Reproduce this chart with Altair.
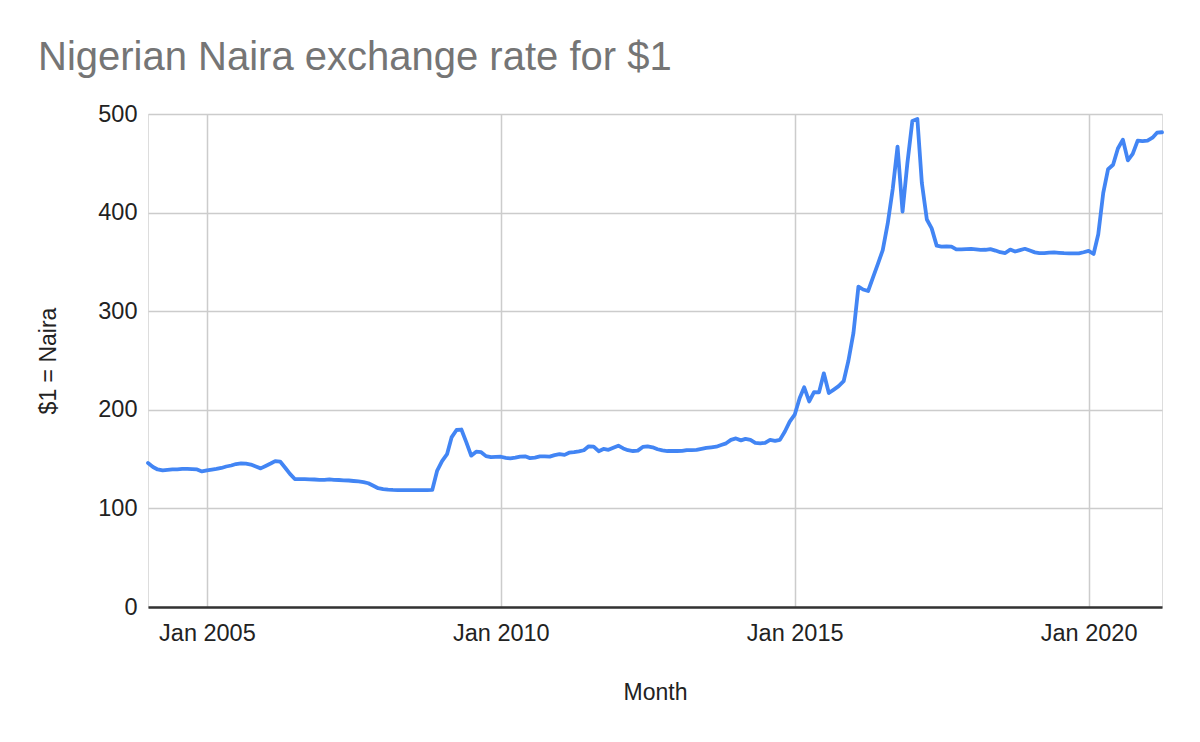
import altair as alt
import pandas as pd

# Monthly series: Jan 2004 .. Apr 2021
start_year = 2004
n_months = 208
months = [f"{start_year + i // 12}-{(i % 12) + 1:02d}-01" for i in range(n_months)]

naira = [
    146, 142, 139.5, 138.5, 139, 139.5, 139.5, 140, 140, 139.8, 139.5, 137.5,
    138.5, 139.3, 140, 141, 142.5, 143.5, 145, 145.7, 145.4, 144.5, 142.5, 140.6,
    143, 145.5, 148, 147.5, 141.5, 135, 129.8, 129.7, 129.6, 129.5, 129.3, 129,
    129, 129.5, 129, 128.8, 128.5, 128.3, 127.8, 127.3, 126.7, 125.5, 123, 120.5,
    119.5, 119, 118.7, 118.6, 118.5, 118.5, 118.6, 118.6, 118.6, 118.6, 118.7, 138,
    148, 155, 172, 179.5, 180, 167, 153.5, 157.5, 157, 153, 152, 152.3,
    152.4, 151.3, 150.7, 151.5, 152.5, 152.8, 151, 151.5, 152.7, 152.7, 152.5, 154,
    155, 154.3, 156.5, 157, 157.8, 159, 163, 162.7, 158, 160.3, 159.4, 161.5,
    163.6, 160.8, 159, 158.2, 158.6, 162.3, 163, 162, 160, 158.8, 158.2, 158.2,
    158.2, 158.3, 159.2, 159.2, 159.3, 160.3, 161.3, 162, 162.6, 164.3, 166, 169.5,
    171, 169, 170.5, 169.5, 166.5, 166, 166.5, 169.5, 168.5, 169.5, 178, 188,
    195, 212, 222.8, 208.5, 218, 217.7, 237, 217, 220.5, 224, 229, 250,
    278, 325, 322, 320.5, 334, 348, 362, 389, 424, 467, 401, 450,
    493, 495, 430, 393, 384, 366.5, 365.5, 365.8, 365.5, 362.7, 362.8, 363,
    363.3, 362.8, 362.2, 362.3, 363, 361.5, 359.8, 359, 362.5, 360.5, 362, 363.3,
    361.5, 359.7, 359, 358.8, 359.4, 359.6, 359.2, 358.8, 358.7, 358.7, 358.7, 359.8,
    361.2, 358, 378, 420, 444, 448.5, 465, 474, 453, 459.5, 473, 472.5,
    473, 476, 481, 481.5,
]

tick_years = [2005, 2010, 2015, 2020]
y_ticks = [0, 100, 200, 300, 400, 500]

df = pd.DataFrame({"Month": months, "Naira": naira})

FONT = "Liberation Sans"

chart = (
    alt.Chart(df)
    .mark_line(color="#4285F4", strokeWidth=3.8, strokeJoin="round", strokeCap="round")
    .encode(
        x=alt.X(
            "Month:T",
            scale=alt.Scale(type="utc", nice=False, padding=0),
            axis=alt.Axis(
                title="Month",
                values=[alt.DateTime(year=y, month=1, date=1, utc=True) for y in tick_years],
                format="%b %Y",
                grid=True,
                gridColor="#cccccc",
                gridWidth=1.5,
                ticks=False,
                tickSize=0,
                domain=True,
                domainColor="#333333",
                domainWidth=2.5,
                labelFont=FONT,
                labelFontSize=23.5,
                labelColor="#222222",
                labelBaseline="alphabetic",
                labelPadding=33,
                labelFlush=False,
                titleFont=FONT,
                titleFontSize=23,
                titleFontWeight="normal",
                titleColor="#222222",
                titleBaseline="alphabetic",
                titleY=92,
            ),
        ),
        y=alt.Y(
            "Naira:Q",
            scale=alt.Scale(domain=[0, 500], nice=False, zero=True),
            axis=alt.Axis(
                title="$1 = Naira",
                values=y_ticks,
                grid=True,
                gridColor="#cccccc",
                gridWidth=1.5,
                ticks=False,
                tickSize=0,
                domain=False,
                labelFont=FONT,
                labelFontSize=23.5,
                labelColor="#222222",
                labelPadding=11,
                titleFont=FONT,
                titleFontSize=23,
                titleFontWeight="normal",
                titleColor="#222222",
                titleX=-100,
                titleY=246.5,
                titleBaseline="middle",
                titleAlign="center",
            ),
        ),
    )
    .properties(
        width=1014,
        height=493,
        autosize=alt.AutoSizeParams(type="none"),
        padding={"left": 140, "top": 106, "right": 30, "bottom": 110},
        title=alt.TitleParams(
            text="Nigerian Naira exchange rate for $1",
            font=FONT,
            fontSize=40,
            fontWeight="normal",
            color="#757575",
            anchor="start",
            frame="group",
            baseline="alphabetic",
            offset=44,
            dx=-110,
            dy=52,
        ),
    )
    .configure_view(stroke=None)
    .configure(background="white")
)

chart.save("out.html", embed_options={"renderer": "svg", "actions": False})
